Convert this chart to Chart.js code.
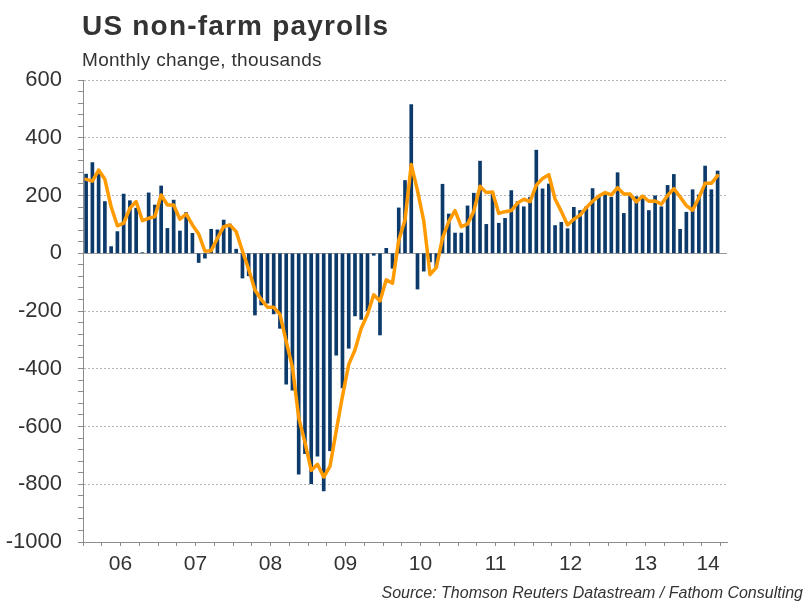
<!DOCTYPE html>
<html>
<head>
<meta charset="utf-8">
<script src="https://cdn.jsdelivr.net/npm/chart.js@4/dist/chart.umd.min.js"></script>
<style>
  body { margin: 0; background: #fff; }
  #wrap { position: relative; width: 808px; height: 606px; font-family: "Liberation Sans", Arial, sans-serif; color: #333; }
  #chart { position: absolute; left: 0; top: 0; }
  .title { position: absolute; left: 82px; top: 10px; font-size: 28px; line-height: 32px; font-weight: bold; letter-spacing: 1.2px; white-space: nowrap; }
  .subtitle { position: absolute; left: 82px; top: 49px; font-size: 19px; line-height: 22px; letter-spacing: 0.3px; white-space: nowrap; }
  .source { position: absolute; right: 5px; top: 584px; font-size: 16px; line-height: 18px; font-style: italic; white-space: nowrap; }
</style>
</head>
<body>
<div id="wrap">
  <canvas id="chart" width="808" height="606"></canvas>
  <div class="title">US non-farm payrolls</div>
  <div class="subtitle">Monthly change, thousands</div>
  <div class="source">Source: Thomson Reuters Datastream / Fathom Consulting</div>
</div>
<script>
// Jan 2006 .. Jul 2014 (last month on the axis has no data yet)
const years = ["06", "07", "08", "09", "10", "11", "12", "13", "14"];
const monthNames = ["Jan", "Feb", "Mar", "Apr", "May", "Jun", "Jul", "Aug", "Sep", "Oct", "Nov", "Dec"];

// monthly change, thousands
const payrolls = [
  274, 314, 277, 179, 23, 75, 205, 182, 156, 2, 209, 167,
  233, 86, 184, 77, 141, 69, -32, -17, 83, 81, 115, 101,
  14, -86, -78, -214, -179, -173, -210, -260, -453, -474, -765, -694,
  -798, -703, -823, -684, -353, -466, -329, -217, -229, -199, -7, -283,
  17, -52, 157, 252, 515, -124, -62, -30, -48, 239, 136, 70,
  70, 164, 208, 319, 100, 208, 104, 121, 217, 179, 161, 194,
  357, 223, 240, 96, 107, 85, 159, 148, 161, 224, 194, 205,
  194, 279, 138, 198, 196, 190, 148, 199, 161, 235, 273, 83,
  142, 220, 202, 302, 220, 285, null
];

// 3-month average (orange line)
const threeMonthAvg = [
  256, 250, 288, 256, 161, 95, 104, 156, 179, 113, 121, 127,
  202, 167, 167, 118, 136, 98, 67, 7, 9, 52, 92, 98,
  75, 8, -55, -127, -160, -187, -187, -212, -305, -395, -570, -655,
  -752, -731, -775, -738, -615, -495, -385, -335, -260, -212, -144, -165,
  -92, -104, 45, 115, 307, 217, 112, -74, -50, 52, 110, 148,
  92, 101, 145, 232, 210, 212, 138, 144, 148, 174, 187, 179,
  236, 259, 272, 188, 145, 98, 118, 132, 158, 180, 198, 210,
  202, 227, 205, 205, 178, 198, 180, 181, 170, 200, 224, 195,
  165, 149, 192, 242, 242, 269, null
];

const labels = [];
years.forEach(y => monthNames.forEach(m => labels.push(m + " " + y)));
labels.length = payrolls.length;

const NAVY = "#0b3a6b";
const ORANGE = "#ff9a00";
const AXIS = "#8c8c8c";
const FONT = "'Liberation Sans', Arial, sans-serif";

// year label sits at the middle of each year's months
function yearLabel(i) {
  const first = Math.floor(i / 12) * 12;
  const count = Math.min(12, labels.length - first);
  const mid = first + Math.floor((count - 1) / 2);
  return i === mid ? years[first / 12] : "";
}

new Chart(document.getElementById("chart"), {
  type: "bar",
  data: {
    labels: labels,
    datasets: [
      {
        type: "line",
        data: threeMonthAvg,
        borderColor: ORANGE,
        borderWidth: 3.5,
        pointRadius: 0,
        tension: 0,
        borderJoinStyle: "round",
        borderCapStyle: "round",
        order: 1
      },
      {
        data: payrolls,
        backgroundColor: NAVY,
        barThickness: 3,
        order: 2
      }
    ]
  },
  options: {
    responsive: false,
    animation: false,
    layout: { padding: { top: 80, right: 81, bottom: 30, left: 0 } },
    plugins: { legend: { display: false }, tooltip: { enabled: false } },
    scales: {
      x: {
        afterFit: scale => { scale.height = 34; },
        border: { color: AXIS, width: 1 },
        grid: {
          drawOnChartArea: false,
          tickLength: 4,
          tickColor: ctx => (ctx.index !== undefined && ctx.index % 3 === 0) ? AXIS : "rgba(0,0,0,0)"
        },
        ticks: {
          autoSkip: false,
          maxRotation: 0,
          padding: 6,
          labelOffset: 3,
          color: "#333",
          font: { family: FONT, size: 21 },
          callback: (v, i) => yearLabel(i)
        }
      },
      y: {
        min: -1000,
        max: 600,
        afterFit: scale => { scale.width = 83; },
        border: {
          color: AXIS,
          width: 1,
          dash: ctx => (ctx.tick && ctx.tick.value === 0) ? [] : [2, 2]
        },
        grid: {
          tickLength: 5,
          tickColor: AXIS,
          color: ctx => {
            const v = ctx.tick ? ctx.tick.value : null;
            if (v === 0) return "#9a9a9a";
            if (v !== null && v % 200 === 0 && v !== -1000) return "#b4b4b4";
            return "rgba(0,0,0,0)";
          }
        },
        ticks: {
          stepSize: 40,
          autoSkip: false,
          padding: 16,
          color: "#333",
          font: { family: FONT, size: 22 },
          callback: v => (v % 200 === 0 ? v : "")
        }
      }
    }
  }
});
</script>
</body>
</html>
